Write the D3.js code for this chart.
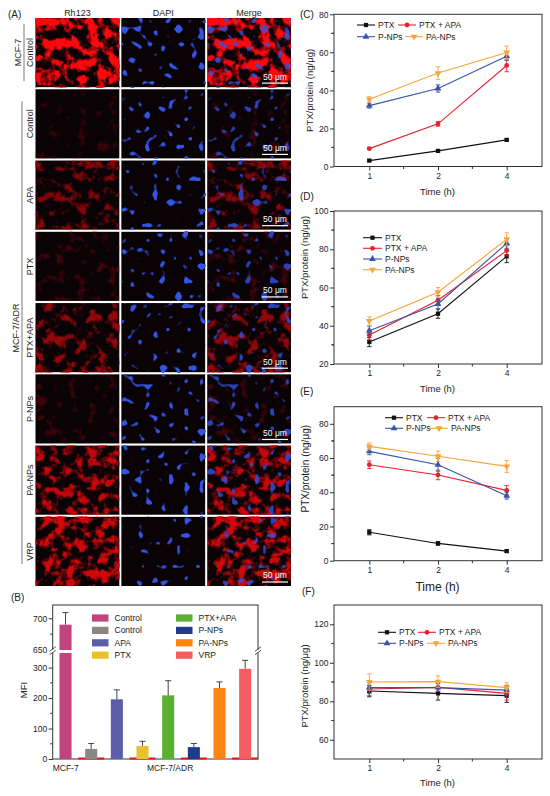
<!DOCTYPE html>
<html>
<head>
<meta charset="utf-8">
<script src="https://cdn.jsdelivr.net/npm/d3@7"></script>
<style>
  body { margin: 0; background: #fff; }
  svg { display: block; font-family: Arial, "Liberation Sans", Helvetica, sans-serif; }
</style>
</head>
<body>
<svg id="fig" width="550" height="796"></svg>
<script>
////////// Data ///////////

// panel A : fluorescence images
var channelNames = ["Rh123", "DAPI", "Merge"];
var rowLabels = ["Control", "Control", "APA", "PTX", "PTX+APA", "P-NPs", "PA-NPs", "VRP"];
var rh123Level = [1.0, 0.12, 0.55, 0.2, 0.62, 0.18, 0.8, 0.85];
var dapiLevel = [0.9, 0.55, 0.5, 0.75, 0.7, 0.6, 0.5, 0.3];
var scaleBarRows = [true, true, true, true, true, true, false, true];

// panel B : MFI bars
var mfiGroups = ["Control", "Control", "APA", "PTX", "PTX+APA", "P-NPs", "PA-NPs", "VRP"];
var mfiValues = [690, 33, 196, 43, 209, 39, 233, 296];
var mfiErrors = [19, 18, 31, 15, 48, 12, 20, 28];
var mfiColors = ["#c2447f", "#8b8584", "#5c5ea8", "#e6c22c", "#5cb031", "#1d3d8c", "#ff8412", "#f45e63"];
var mfiTicksLow = [0, 100, 200, 300];
var mfiTicksHigh = [650, 700];
var cellLines = ["MCF-7", "MCF-7/ADR"];

// panels C-F : PTX uptake
var times = ["1", "2", "4"];
var seriesNames = ["PTX", "PTX + APA", "P-NPs", "PA-NPs"];
var seriesColors = ["#111111", "#e8202f", "#3b54a6", "#f8a43c"];

var cPTX = [3.1, 8.2, 14.0],      cPTXErr = [0.4, 0.6, 0.6];
var cPTXAPA = [9.4, 22.4, 53.1],  cPTXAPAErr = [0.6, 1.2, 3.3];
var cPNP = [32.0, 41.0, 58.0],    cPNPErr = [1.3, 1.9, 2.2];
var cPANP = [35.3, 49.1, 59.9],   cPANPErr = [1.4, 3.3, 3.4];

var dPTX = [31.5, 46.3, 76.3],    dPTXErr = [2.4, 2.4, 3.3];
var dPTXAPA = [35.2, 53.3, 79.3], dPTXAPAErr = [2.5, 2.5, 2.8];
var dPNP = [37.4, 51.4, 83.1],    dPNPErr = [2.4, 2.6, 2.6];
var dPANP = [42.5, 57.5, 85.2],   dPANPErr = [2.2, 2.5, 3.4];

var ePTX = [16.6, 10.1, 5.6],     ePTXErr = [1.5, 1.0, 0.6];
var ePTXAPA = [56.1, 50.1, 41.1], ePTXAPAErr = [2.2, 2.8, 2.8];
var ePNP = [63.9, 56.1, 38.0],    ePNPErr = [2.0, 3.8, 2.0];
var ePANP = [66.8, 61.0, 55.1],   ePANPErr = [2.0, 3.0, 3.5];

var fPTX = [85.3, 84.1, 82.9],    fPTXErr = [3.0, 3.5, 3.5];
var fPTXAPA = [86.4, 87.2, 84.1], fPTXAPAErr = [3.5, 2.0, 3.5];
var fPNP = [87.1, 87.1, 85.8],    fPNPErr = [3.0, 2.0, 2.5];
var fPANP = [90.0, 90.2, 87.1],   fPANPErr = [4.2, 3.0, 2.5];

var svg = d3.select("#fig");
var defs = svg.append("defs");
var ink = "#222";

function label(x, y, txt, size, anchor, rot) {
  var t = svg.append("text")
    .attr("x", x).attr("y", y)
    .attr("font-size", size)
    .attr("fill", ink)
    .attr("text-anchor", anchor || "start")
    .text(txt);
  if (rot) t.attr("transform", "rotate(-90," + x + "," + y + ")");
  return t;
}

////////// Panel A ///////////

var colX = d3.scaleBand().domain(channelNames).range([35.5, 291]).paddingInner(0.024);
var rowY = d3.scaleBand().domain(d3.range(rowLabels.length)).range([18, 586]).paddingInner(0.03);
var bw = colX.bandwidth(), bh = rowY.bandwidth();

rowLabels.forEach(function(lab, i) {
  var L = rh123Level[i], D = dapiLevel[i];
  // red cytoplasm texture (soft threshold on noise)
  var tRed = 0.6 - 0.18 * L;
  var fr = defs.append("filter").attr("id", "red" + i)
    .attr("x", 0).attr("y", 0).attr("width", 1).attr("height", 1)
    .attr("color-interpolation-filters", "sRGB");
  fr.append("feTurbulence").attr("type", "fractalNoise")
    .attr("baseFrequency", 0.095).attr("numOctaves", 3).attr("seed", i * 11 + 5);
  fr.append("feColorMatrix").attr("type", "matrix")
    .attr("values", [0, 0, 0, 0, 0.55 + 0.45 * L,
                     0, 0, 0, 0, 0.03,
                     0, 0, 0, 0, 0.05,
                     5, 0, 0, 0, -5 * tRed].join(" "));
  // blue nuclei
  var tBlue = 0.67 - 0.06 * D;
  var fb = defs.append("filter").attr("id", "blue" + i)
    .attr("x", 0).attr("y", 0).attr("width", 1).attr("height", 1)
    .attr("color-interpolation-filters", "sRGB");
  fb.append("feTurbulence").attr("type", "fractalNoise")
    .attr("baseFrequency", 0.13).attr("numOctaves", 1).attr("seed", i * 7 + 2);
  fb.append("feColorMatrix").attr("type", "matrix")
    .attr("values", [0, 0, 0, 0, 0.2,
                     0, 0, 0, 0, 0.32,
                     0, 0, 0, 0, 0.9,
                     14, 0, 0, 0, -14 * tBlue].join(" "));

  channelNames.forEach(function(ch) {
    var g = svg.append("g")
      .attr("transform", "translate(" + colX(ch) + "," + rowY(i) + ")");
    g.append("rect").attr("width", bw).attr("height", bh).attr("fill", "#0a0306");
    if (ch != "DAPI")
      g.append("rect").attr("width", bw).attr("height", bh).attr("filter", "url(#red" + i + ")")
        .attr("opacity", 0.2 + 0.8 * L);
    if (ch != "Rh123")
      g.append("rect").attr("width", bw).attr("height", bh).attr("filter", "url(#blue" + i + ")")
        .attr("opacity", ch == "Merge" ? 0.8 : 1);
    if (ch == "Merge" && scaleBarRows[i]) {
      g.append("line").attr("x1", bw - 29).attr("x2", bw - 3)
        .attr("y1", bh - 4).attr("y2", bh - 4)
        .attr("stroke", "#fff").attr("stroke-width", 1.2);
      g.append("text").attr("x", bw - 16).attr("y", bh - 7.5)
        .attr("text-anchor", "middle").attr("font-size", 8.5).attr("fill", "#fff")
        .text("50 μm");
    }
  });

  // row label
  label(30, rowY(i) + bh / 2, lab, 9, "middle", true).attr("dy", "0.35em");
});

channelNames.forEach(function(ch) {
  label(colX(ch) + bw / 2, 16, ch, 9, "middle");
});
label(8, 18, "(A)", 10);

// cell line brackets
svg.append("line").attr("x1", 24).attr("x2", 24)
  .attr("y1", rowY(0) + 6).attr("y2", rowY(0) + bh - 6)
  .attr("stroke", "#555").attr("stroke-width", 0.8);
label(18, rowY(0) + bh / 2, "MCF-7", 9, "middle", true).attr("dy", "0.35em");
svg.append("line").attr("x1", 22).attr("x2", 22)
  .attr("y1", rowY(1) + 12).attr("y2", rowY(7) + bh - 22)
  .attr("stroke", "#555").attr("stroke-width", 0.8);
label(16, 328, "MCF-7/ADR", 9, "middle", true).attr("dy", "0.35em");

////////// Panel B ///////////

var bLeft = 52.7, bRight = 258, bTop = 605, bBottom = 759;
var yLow = d3.scaleLinear().domain([0, 348]).range([bBottom, 653]);
var yHigh = d3.scaleLinear().domain([650, 721]).range([650, bTop]);
var xBar = d3.scaleBand().domain(d3.range(mfiValues.length))
  .range([bLeft, bRight]).paddingInner(0.53).paddingOuter(0.265);

svg.append("rect").attr("x", bLeft).attr("y", bTop)
  .attr("width", bRight - bLeft).attr("height", bBottom - bTop)
  .attr("fill", "none").attr("stroke", "#333").attr("stroke-width", 1);

// red baseline dashes under the MCF-7/ADR bars
d3.range(1, mfiValues.length, 2).forEach(function(i) {
  var cx = xBar(i) + xBar.bandwidth() / 2;
  svg.append("line").attr("x1", cx - 13).attr("x2", cx + 13)
    .attr("y1", bBottom - 0.5).attr("y2", bBottom - 0.5)
    .attr("stroke", "#e8141e").attr("stroke-width", 2);
});

function valueY(v) { return v > 650 ? yHigh(v) : yLow(v); }

mfiValues.forEach(function(v, i) {
  var x0 = xBar(i), w = xBar.bandwidth(), cx = x0 + w / 2;
  if (v > 650) {
    svg.append("rect").attr("x", x0).attr("y", yLow(348)).attr("width", w)
      .attr("height", yLow(0) - yLow(348)).attr("fill", mfiColors[i]);
    svg.append("rect").attr("x", x0).attr("y", yHigh(v)).attr("width", w)
      .attr("height", yHigh(650) - yHigh(v)).attr("fill", mfiColors[i]);
  } else {
    svg.append("rect").attr("x", x0).attr("y", yLow(v)).attr("width", w)
      .attr("height", yLow(0) - yLow(v)).attr("fill", mfiColors[i]);
  }
  var yTop = valueY(v + mfiErrors[i]);
  svg.append("line").attr("x1", cx).attr("x2", cx)
    .attr("y1", valueY(v)).attr("y2", yTop)
    .attr("stroke", "#444").attr("stroke-width", 1);
  svg.append("line").attr("x1", cx - 3).attr("x2", cx + 3)
    .attr("y1", yTop).attr("y2", yTop)
    .attr("stroke", "#444").attr("stroke-width", 1);
});

var axB1 = svg.append("g").attr("transform", "translate(" + bLeft + ",0)")
  .call(d3.axisLeft(yLow).tickValues(mfiTicksLow).tickSize(4).tickPadding(1.5));
var axB2 = svg.append("g").attr("transform", "translate(" + bLeft + ",0)")
  .call(d3.axisLeft(yHigh).tickValues(mfiTicksHigh).tickSize(4).tickPadding(1.5));
[axB1, axB2].forEach(function(a) {
  a.select(".domain").remove();
  a.selectAll("line").attr("stroke", "#333");
  a.selectAll("text").attr("font-size", 8.5).attr("fill", ink)
    .attr("font-family", "Arial, 'Liberation Sans', sans-serif");
});
// minor ticks
[50, 150, 250].map(yLow).concat([yHigh(675)]).forEach(function(yy) {
  svg.append("line").attr("x1", bLeft - 2.5).attr("x2", bLeft)
    .attr("y1", yy).attr("y2", yy).attr("stroke", "#333");
});

// axis breaks
[bLeft, bRight].forEach(function(xx) {
  svg.append("rect").attr("x", xx - 4).attr("y", 649.6).attr("width", 8).attr("height", 3.2)
    .attr("fill", "#fff");
  [649, 652.5].forEach(function(yy) {
    svg.append("line").attr("x1", xx - 3).attr("x2", xx + 3)
      .attr("y1", yy + 2.2).attr("y2", yy - 2.2)
      .attr("stroke", "#333").attr("stroke-width", 0.9);
  });
});

// legend
mfiGroups.forEach(function(name, i) {
  var col = i < 4 ? 0 : 1, row = i % 4;
  var lx = col == 0 ? 92 : 176, ly = 618 + row * 12.4;
  svg.append("rect").attr("x", lx).attr("y", ly - 3.6).attr("width", 16.5).attr("height", 7.2)
    .attr("fill", mfiColors[i]);
  label(lx + 22.5, ly + 3, name, 8.5);
});

label(24, 690, "MFI", 9.5, "middle", true).attr("dy", "0.35em");
label(bLeft, 771, cellLines[0], 8.5);
label(147, 771, cellLines[1], 8.5);
label(11, 601, "(B)", 10);

////////// Panels C-F ///////////

var boxLeft = 334, boxRight = 542;
var xTime = d3.scalePoint().domain(times).range([369.3, 506.7]);
var symbols = [d3.symbolSquare, d3.symbolCircle, d3.symbolTriangle, d3.symbolTriangle];
var symSizes = [18, 18, 20, 20];
var symRot = [0, 0, 0, 180];

function marker(g, i, x, y) {
  g.append("path")
    .attr("d", d3.symbol().type(symbols[i]).size(symSizes[i])())
    .attr("transform", "translate(" + x + "," + y + ") rotate(" + symRot[i] + ")")
    .attr("fill", seriesColors[i]);
}

function linePanel(p) {
  var g = svg.append("g");
  var y = d3.scaleLinear().domain(p.domain).range([p.bottom, p.top]);

  g.append("rect").attr("x", boxLeft).attr("y", p.top)
    .attr("width", boxRight - boxLeft).attr("height", p.bottom - p.top)
    .attr("fill", "none").attr("stroke", "#333").attr("stroke-width", 1);

  var ay = g.append("g").attr("transform", "translate(" + boxLeft + ",0)")
    .call(d3.axisLeft(y).tickValues(p.ticks).tickSize(4).tickPadding(1.5));
  var ax = g.append("g").attr("transform", "translate(0," + p.bottom + ")")
    .call(d3.axisBottom(xTime).tickSize(4).tickPadding(2));
  [ay, ax].forEach(function(a) {
    a.select(".domain").remove();
    a.selectAll("line").attr("stroke", "#333");
    a.selectAll("text").attr("font-size", p.tickFont).attr("fill", ink)
      .attr("font-family", "Arial, 'Liberation Sans', sans-serif");
  });
  // minor ticks halfway between the major ones
  p.ticks.forEach(function(v) {
    [v - 10, v + 10].forEach(function(m) {
      if (m <= p.domain[0] || m >= p.domain[1] || p.ticks.indexOf(m) >= 0) return;
      g.append("line").attr("x1", boxLeft - 2.5).attr("x2", boxLeft)
        .attr("y1", y(m)).attr("y2", y(m)).attr("stroke", "#333");
    });
  });
  times.slice(1).forEach(function(t) {
    var xm = xTime(t) - xTime.step() / 2;
    g.append("line").attr("x1", xm).attr("x2", xm)
      .attr("y1", p.bottom).attr("y2", p.bottom + 2.5).attr("stroke", "#333");
  });

  // series
  p.series.forEach(function(s, i) {
    var pts = s[0].map(function(v, k) { return [xTime(times[k]), y(v)]; });
    g.append("path")
      .attr("d", d3.line()(pts))
      .attr("fill", "none").attr("stroke", seriesColors[i]).attr("stroke-width", 1.1);
    pts.forEach(function(d, k) {
      var v = s[0][k], e = s[1][k];
      var y1 = y(v + e), y2 = y(v - e);
      g.append("line").attr("x1", d[0]).attr("x2", d[0]).attr("y1", y1).attr("y2", y2)
        .attr("stroke", seriesColors[i]).attr("stroke-width", 0.9);
      [y1, y2].forEach(function(yy) {
        g.append("line").attr("x1", d[0] - 2.2).attr("x2", d[0] + 2.2)
          .attr("y1", yy).attr("y2", yy)
          .attr("stroke", seriesColors[i]).attr("stroke-width", 0.9);
      });
      marker(g, i, d[0], d[1]);
    });
  });

  // legend
  seriesNames.forEach(function(name, i) {
    var lx = p.legend[i][0], ly = p.legend[i][1], len = p.legendLen;
    g.append("line").attr("x1", lx).attr("x2", lx + len).attr("y1", ly).attr("y2", ly)
      .attr("stroke", seriesColors[i]).attr("stroke-width", 1.1);
    marker(g, i, lx + len / 2, ly);
    g.append("text").attr("x", lx + len + 3).attr("y", ly).attr("dy", "0.35em")
      .attr("font-size", 8.5).attr("fill", ink).text(name);
  });

  label(p.yLabelX, (p.top + p.bottom) / 2 + p.yLabelShift, "PTX/protein (ng/μg)", p.yLabelFont, "middle", true)
    .attr("dy", "0.35em");
  label((boxLeft + boxRight) / 2 - 0.5, p.timeY, "Time (h)", p.timeFont, "middle");
  label(p.tagX, p.tagY, p.tag, 10);
}

linePanel({
  tag: "(C)", tagX: 300, tagY: 18, top: 14.3, bottom: 166.5, domain: [0, 80], ticks: [0, 20, 40, 60, 80],
  series: [[cPTX, cPTXErr], [cPTXAPA, cPTXAPAErr], [cPNP, cPNPErr], [cPANP, cPANPErr]],
  legend: [[357, 25], [398, 25], [357, 36.7], [405, 36.7]], legendLen: 18,
  yLabelX: 310, yLabelShift: 0, yLabelFont: 9.5, timeY: 194.5, timeFont: 9.5, tickFont: 8.5
});
linePanel({
  tag: "(D)", tagX: 300, tagY: 200, top: 211, bottom: 364, domain: [20, 100], ticks: [20, 40, 60, 80, 100],
  series: [[dPTX, dPTXErr], [dPTXAPA, dPTXAPAErr], [dPNP, dPNPErr], [dPANP, dPANPErr]],
  legend: [[363, 237.7], [363, 248.3], [363, 259], [363, 269.7]], legendLen: 19,
  yLabelX: 305, yLabelShift: -30, yLabelFont: 9.5, timeY: 391.5, timeFont: 9.5, tickFont: 8.5
});
linePanel({
  tag: "(E)", tagX: 300, tagY: 395, top: 406.7, bottom: 560.7, domain: [0, 90], ticks: [0, 20, 40, 60, 80],
  series: [[ePTX, ePTXErr], [ePTXAPA, ePTXAPAErr], [ePNP, ePNPErr], [ePANP, ePANPErr]],
  legend: [[385, 417.7], [427, 417.7], [385, 428.3], [430, 428.3]], legendLen: 18,
  yLabelX: 306, yLabelShift: -15, yLabelFont: 10, timeY: 591, timeFont: 12, tickFont: 8.5
});
linePanel({
  tag: "(F)", tagX: 302, tagY: 595, top: 605, bottom: 759, domain: [50, 130], ticks: [60, 80, 100, 120],
  series: [[fPTX, fPTXErr], [fPTXAPA, fPTXAPAErr], [fPNP, fPNPErr], [fPANP, fPANPErr]],
  legend: [[378, 632.3], [418, 632.3], [378, 643.3], [427, 643.3]], legendLen: 18,
  yLabelX: 305, yLabelShift: 4, yLabelFont: 9.5, timeY: 786, timeFont: 9.5, tickFont: 8.5
});
</script>
</body>
</html>
